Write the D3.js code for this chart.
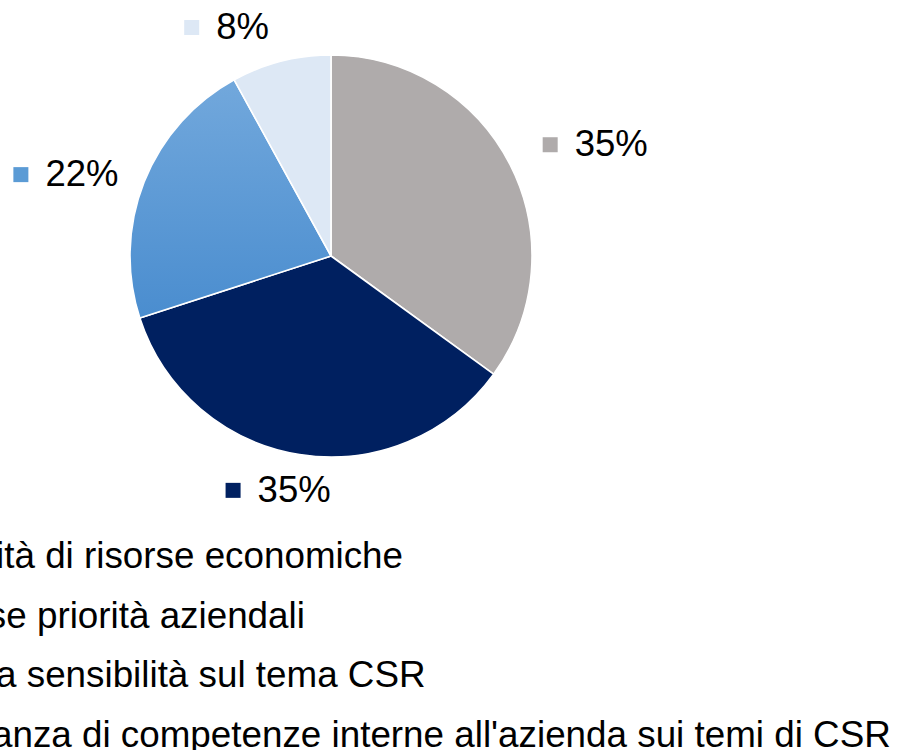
<!DOCTYPE html>
<html>
<head>
<meta charset="utf-8">
<script src="https://cdn.jsdelivr.net/npm/d3@7"></script>
<style>
  body { margin: 0; background: #fff; }
  svg { display: block; font-family: "Liberation Sans", Arial, sans-serif; }
</style>
</head>
<body>
<div id="chart"></div>
<script>
// data
var categories = [
  "Scarsità di risorse economiche",
  "Diverse priorità aziendali",
  "Scarsa sensibilità sul tema CSR",
  "Mancanza di competenze interne all'azienda sui temi di CSR"
];
var values = [35, 35, 22, 8];
var labels = ["35%", "35%", "22%", "8%"];
var colors = ["#afabab", "#002060", "url(#blueGrad)", "#dde8f5"];
var swatches = ["#afabab", "#002060", "#5b9bd5", "#dde8f5"];

// label nudges away from the mid-angle point (Excel "best fit" placement)
var labelNudge = [[37, 4], [-13, -18], [-28, 12], [-41, 18]];

var width = 900, height = 750;
var cx = 331, cy = 256, radius = 201;
var fontSize = 36.8;

var svg = d3.select("#chart")
  .append("svg")
  .attr("width", width)
  .attr("height", height);

// gradient used by the 22% slice
var grad = svg.append("defs").append("linearGradient")
  .attr("id", "blueGrad")
  .attr("x1", 0).attr("y1", 0).attr("x2", 0).attr("y2", 1);
grad.append("stop").attr("offset", "0%").attr("stop-color", "#72a8dc");
grad.append("stop").attr("offset", "100%").attr("stop-color", "#4a8dcf");

var pie = d3.pie().sort(null).value(function(d){ return d; });
var arcs = pie(values);

var arc = d3.arc().innerRadius(0).outerRadius(radius);
var labelArc = d3.arc().innerRadius(255).outerRadius(255);

var g = svg.append("g")
  .attr("transform", "translate(" + cx + "," + cy + ")");

g.selectAll("path")
  .data(arcs)
  .enter()
  .append("path")
  .attr("d", arc)
  .attr("fill", function(d, i){ return colors[i]; })
  .attr("stroke", "#fff")
  .attr("stroke-width", 1.6);

// data labels: small square + percentage
var lab = g.selectAll(".lab")
  .data(arcs)
  .enter()
  .append("g")
  .attr("class", "lab");

lab.each(function(d, i){
  var sel = d3.select(this);
  var c = labelArc.centroid(d);
  var px = c[0] + labelNudge[i][0];
  var py = c[1] + labelNudge[i][1];
  var t = sel.append("text")
    .attr("font-size", 36.5)
    .attr("fill", "#000")
    .text(labels[i]);
  var tw = t.node().getComputedTextLength();
  var w = 15 + 17 + tw;
  var x0 = px - w / 2;
  var base = py + 12;
  t.attr("x", x0 + 32).attr("y", base);
  sel.append("rect")
    .attr("x", x0)
    .attr("y", base - 19)
    .attr("width", 15)
    .attr("height", 15)
    .attr("fill", swatches[i]);
});

// legend (runs off the left edge like the source image)
var legend = svg.append("g")
  .attr("transform", "translate(-98,568)");

var item = legend.selectAll(".item")
  .data(categories)
  .enter()
  .append("g")
  .attr("class", "item")
  .attr("transform", function(d, i){ return "translate(0," + (i * 59.5) + ")"; });

item.append("rect")
  .attr("x", -30)
  .attr("y", -19)
  .attr("width", 15)
  .attr("height", 15)
  .attr("fill", function(d, i){ return swatches[i]; });

item.append("text")
  .attr("font-size", fontSize)
  .attr("fill", "#000")
  .text(function(d){ return d; });
</script>
</body>
</html>
